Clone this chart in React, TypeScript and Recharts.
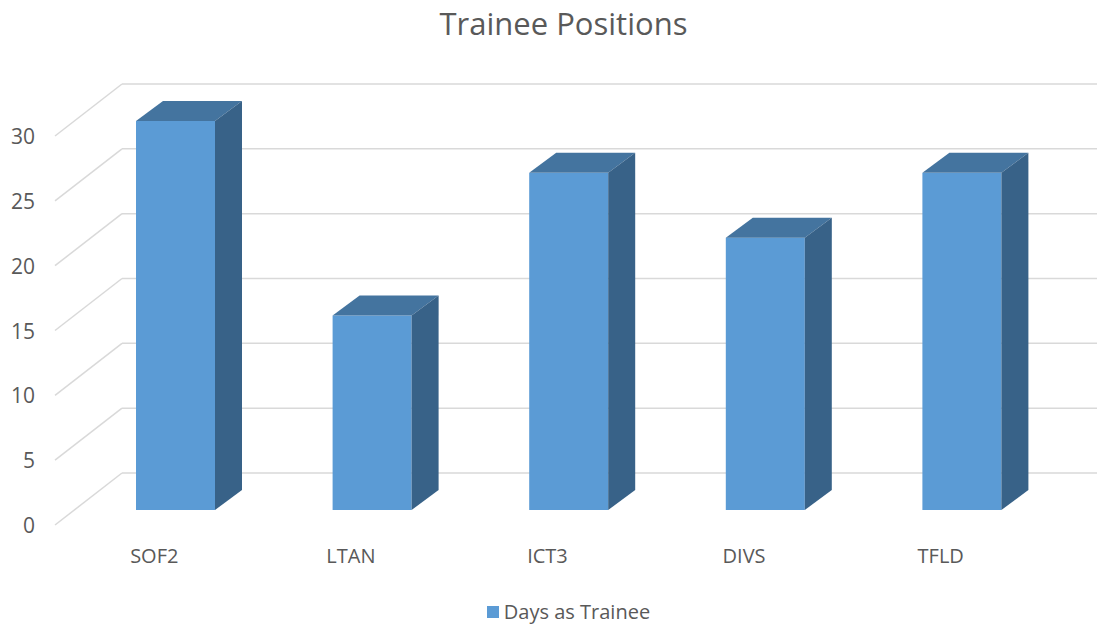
import React from "react";
import { BarChart, Bar, XAxis, YAxis, CartesianGrid, Legend } from "recharts";

const categories = ["SOF2", "LTAN", "ICT3", "DIVS", "TFLD"];
const daysAsTrainee = [30, 15, 26, 21, 26];
const yTicks = [0, 5, 10, 15, 20, 25, 30];

const data = categories.map((name, i) => ({ name, days: daysAsTrainee[i] }));

const FONT = "'Open Sans', 'Noto Sans', sans-serif";
const TEXT = "#595959";
const GRID = "#d9d9d9";
// depth of the fake 3d box
const DX = 27;
const DY = 20;

const Box3D = (props: any) => {
  const { x, y, width, height } = props;
  if (height == null || height <= 0) return null;
  return (
    <g>
      <rect x={x} y={y} width={width} height={height} fill="#5b9bd5" />
      <polygon
        points={`${x},${y} ${x + DX},${y - DY} ${x + width + DX},${y - DY} ${x + width},${y}`}
        fill="#44749f"
      />
      <polygon
        points={`${x + width},${y} ${x + width + DX},${y - DY} ${x + width + DX},${y + height - DY} ${x + width},${y + height}`}
        fill="#386288"
      />
    </g>
  );
};

// floor diagonal + back wall line for each tick
const gridLine = (p: any) => {
  const y = p.y1;
  return (
    <g key={p.key ?? `g-${y}`}>
      <line x1={p.x1 - 22} y1={y + 15} x2={p.x1 + 45} y2={y - 37} stroke={GRID} strokeWidth={1.5} />
      <line x1={p.x1 + 45} y1={y - 37} x2={1097} y2={y - 37} stroke={GRID} strokeWidth={1.5} />
    </g>
  );
};

const YTick = ({ y, payload }: any) => (
  <text x={35} y={y + 15} textAnchor="end" dominantBaseline="central" fontSize={21} fill={TEXT} fontFamily={FONT}>
    {payload.value}
  </text>
);

const XTick = ({ x, y, payload }: any) => (
  <text x={x - 21} y={y + 37} textAnchor="middle" dominantBaseline="central" fontSize={20} fill={TEXT} fontFamily={FONT}>
    {payload.value}
  </text>
);

const LegendContent = () => (
  <div
    style={{
      display: "flex",
      justifyContent: "center",
      alignItems: "center",
      fontFamily: FONT,
      fontSize: 20,
      color: TEXT,
      paddingLeft: 40,
    }}
  >
    <span style={{ width: 12, height: 12, background: "#5b9bd5", display: "inline-block", marginRight: 5 }} />
    <span>Days as Trainee</span>
  </div>
);

export default function App() {
  return (
    <div style={{ position: "absolute", left: 0, top: 0, width: 1097, height: 625, background: "#fff" }}>
      <div
        style={{
          position: "absolute",
          top: 2,
          left: 30,
          width: 1067,
          textAlign: "center",
          fontFamily: FONT,
          fontSize: 31,
          color: TEXT,
        }}
      >
        Trainee Positions
      </div>
      <BarChart width={1097} height={625} data={data} margin={{ top: 121, right: 37, left: 0, bottom: 0 }}>
        <CartesianGrid vertical={false} horizontal={gridLine} />
        <XAxis dataKey="name" height={115} axisLine={false} tickLine={false} tick={<XTick />} />
        <YAxis width={77} domain={[0, 30]} ticks={yTicks} axisLine={false} tickLine={false} tick={<YTick />} />
        <Legend
          verticalAlign="middle"
          content={<LegendContent />}
          wrapperStyle={{ top: 598, left: 0, width: 1097 }}
        />
        <Bar dataKey="days" name="Days as Trainee" barSize={79} shape={<Box3D />} isAnimationActive={false} />
      </BarChart>
    </div>
  );
}
